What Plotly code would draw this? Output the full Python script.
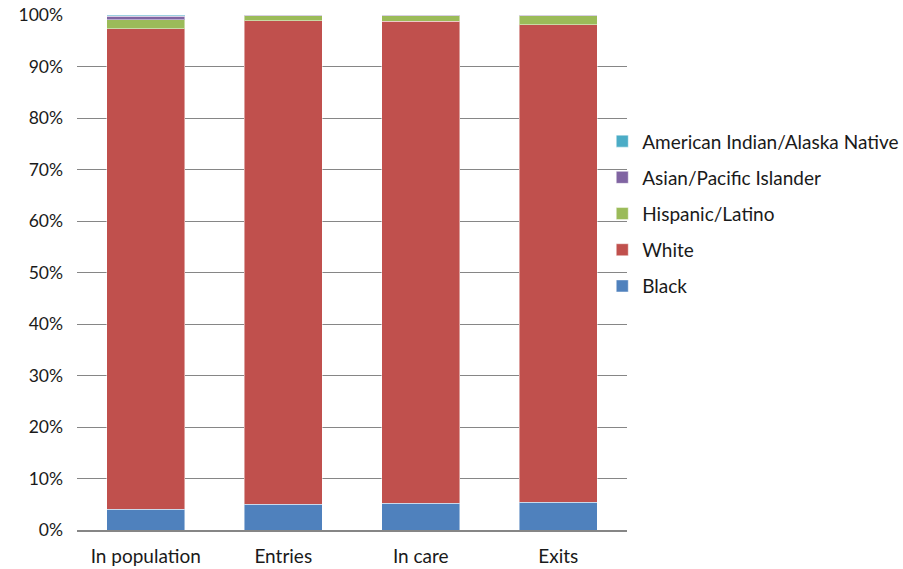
import plotly.graph_objects as go

categories = ["In population", "Entries", "In care", "Exits"]
black = [4.0, 5.0, 5.2, 5.4]
white = [93.3, 93.9, 93.6, 92.7]
hispanic = [1.8, 0.95, 1.05, 1.8]
asian = [0.7, 0.1, 0.1, 0.06]
amind = [0.2, 0.05, 0.05, 0.04]

series = [
    ("Black", black, "#4F81BD"),
    ("White", white, "#C0504D"),
    ("Hispanic/Latino", hispanic, "#9BBB59"),
    ("Asian/Pacific Islander", asian, "#8064A2"),
    ("American Indian/Alaska Native", amind, "#4BACC6"),
]

fig = go.Figure()
n = len(series)
for i, (name, vals, col) in enumerate(series):
    fig.add_trace(go.Bar(
        x=categories, y=[v / 100 for v in vals], name=name,
        legendgroup=name, legendrank=n - i,
        marker=dict(color=col, line=dict(color="rgba(255,255,255,0.45)", width=1)),
    ))

font = "Lato, 'Open Sans', sans-serif"
fig.update_layout(
    barmode="stack",
    bargap=0.43,
    width=903, height=569,
    margin=dict(l=77, r=276, t=15, b=39, autoexpand=False),
    plot_bgcolor="white", paper_bgcolor="white",
    font=dict(family=font, size=16, color="#1a1a1a"),
    showlegend=True,
    legend=dict(
        x=0.955, xanchor="left", y=0.614, yanchor="middle",
        traceorder="grouped", tracegroupgap=8.5,
        font=dict(size=19, family=font),
        bgcolor="rgba(0,0,0,0)",
    ),
    xaxis=dict(
        showgrid=False, showline=True, linecolor="#868686", linewidth=2,
        ticks="", tickfont=dict(size=19), ticklabelstandoff=8, automargin=False,
    ),
    yaxis=dict(
        range=[0, 1], tickformat=".0%", dtick=0.1,
        showgrid=True, gridcolor="#868686", gridwidth=1,
        showline=False, zeroline=False, ticks="", ticklen=0,
        tickfont=dict(size=17.5), ticklabelstandoff=13, automargin=False,
    ),
)

fig.write_html(
    "out.html",
    config={"displayModeBar": False},
    post_script="document.body.style.margin='0';document.body.style.overflow='hidden';",
)
